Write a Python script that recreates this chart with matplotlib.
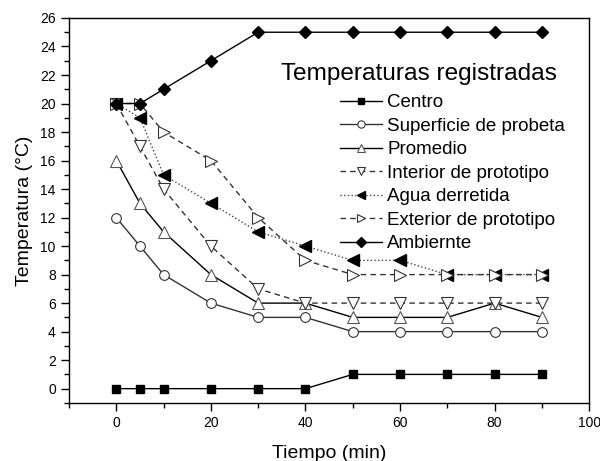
import matplotlib
matplotlib.use("Agg")
import matplotlib.pyplot as plt
from matplotlib.ticker import MultipleLocator

plt.rcParams['font.family'] = ['Liberation Sans', 'DejaVu Sans']

tiempo = [0, 5, 10, 20, 30, 40, 50, 60, 70, 80, 90]
centro = [0, 0, 0, 0, 0, 0, 1, 1, 1, 1, 1]
superficie = [12, 10, 8, 6, 5, 5, 4, 4, 4, 4, 4]
promedio = [16, 13, 11, 8, 6, 6, 5, 5, 5, 6, 5]
interior = [20, 17, 14, 10, 7, 6, 6, 6, 6, 6, 6]
agua = [20, 19, 15, 13, 11, 10, 9, 9, 8, 8, 8]
exterior = [20, 20, 18, 16, 12, 9, 8, 8, 8, 8, 8]
ambiente = [20, 20, 21, 23, 25, 25, 25, 25, 25, 25, 25]

labels = ["Centro", "Superficie de probeta", "Promedio", "Interior de prototipo",
          "Agua derretida", "Exterior de prototipo", "Ambiernte"]

fig = plt.figure(figsize=(6.0, 4.61), dpi=100)
ax = fig.add_axes([0.115, 0.126, 0.867, 0.835])

ms = 7
lw = 1.0
ax.plot(tiempo, centro, '-', color='black', lw=lw, marker='s', ms=ms-1,
        mfc='black', mec='black', label=labels[0])
ax.plot(tiempo, superficie, '-', color='#333333', lw=lw, marker='o', ms=ms,
        mfc='white', mec='#333333', mew=0.8, label=labels[1])
ax.plot(tiempo, promedio, '-', color='black', lw=lw, marker='^', ms=ms+1,
        mfc='white', mec='#555555', mew=0.8, label=labels[2])
ax.plot(tiempo, interior, '--', color='#333333', lw=lw, dashes=(4, 3), marker='v', ms=ms+1,
        mfc='white', mec='#333333', mew=0.8, label=labels[3])
ax.plot(tiempo, agua, ':', color='#444444', lw=lw, marker='<', ms=ms+1,
        mfc='black', mec='black', label=labels[4])
ax.plot(tiempo, exterior, '--', color='#333333', lw=lw, dashes=(4, 3), marker='>', ms=ms+1,
        mfc='white', mec='#333333', mew=0.8, label=labels[5])
ax.plot(tiempo, ambiente, '-', color='black', lw=lw, marker='D', ms=ms-0.5,
        mfc='black', mec='black', label=labels[6])

ax.set_xlim(-10, 100)
ax.set_ylim(-1, 26)
ax.xaxis.set_major_locator(MultipleLocator(20))
ax.xaxis.set_minor_locator(MultipleLocator(10))
ax.yaxis.set_major_locator(MultipleLocator(2))
ax.yaxis.set_minor_locator(MultipleLocator(1))
ax.tick_params(which='major', direction='out', length=6, width=1.0, labelsize=10,
               top=False, right=False)
ax.tick_params(which='minor', direction='out', length=3.5, width=1.0,
               top=False, right=False)
for s in ax.spines.values():
    s.set_linewidth(1.0)

ax.set_xlabel("Tiempo (min)", fontsize=14, labelpad=11)
ax.set_ylabel("Temperatura (°C)", fontsize=14, labelpad=5)

ax.text(0.937, 0.855, "Temperaturas registradas", transform=ax.transAxes,
        fontsize=17.6, ha='right', va='center')

leg = ax.legend(loc='upper left', bbox_to_anchor=(0.52, 0.802), frameon=False,
                fontsize=13.5, handlelength=2.25, handletextpad=0.3,
                labelspacing=0.34, borderpad=0, borderaxespad=0, markerscale=0.75)

fig.savefig("out.png", dpi=100)
